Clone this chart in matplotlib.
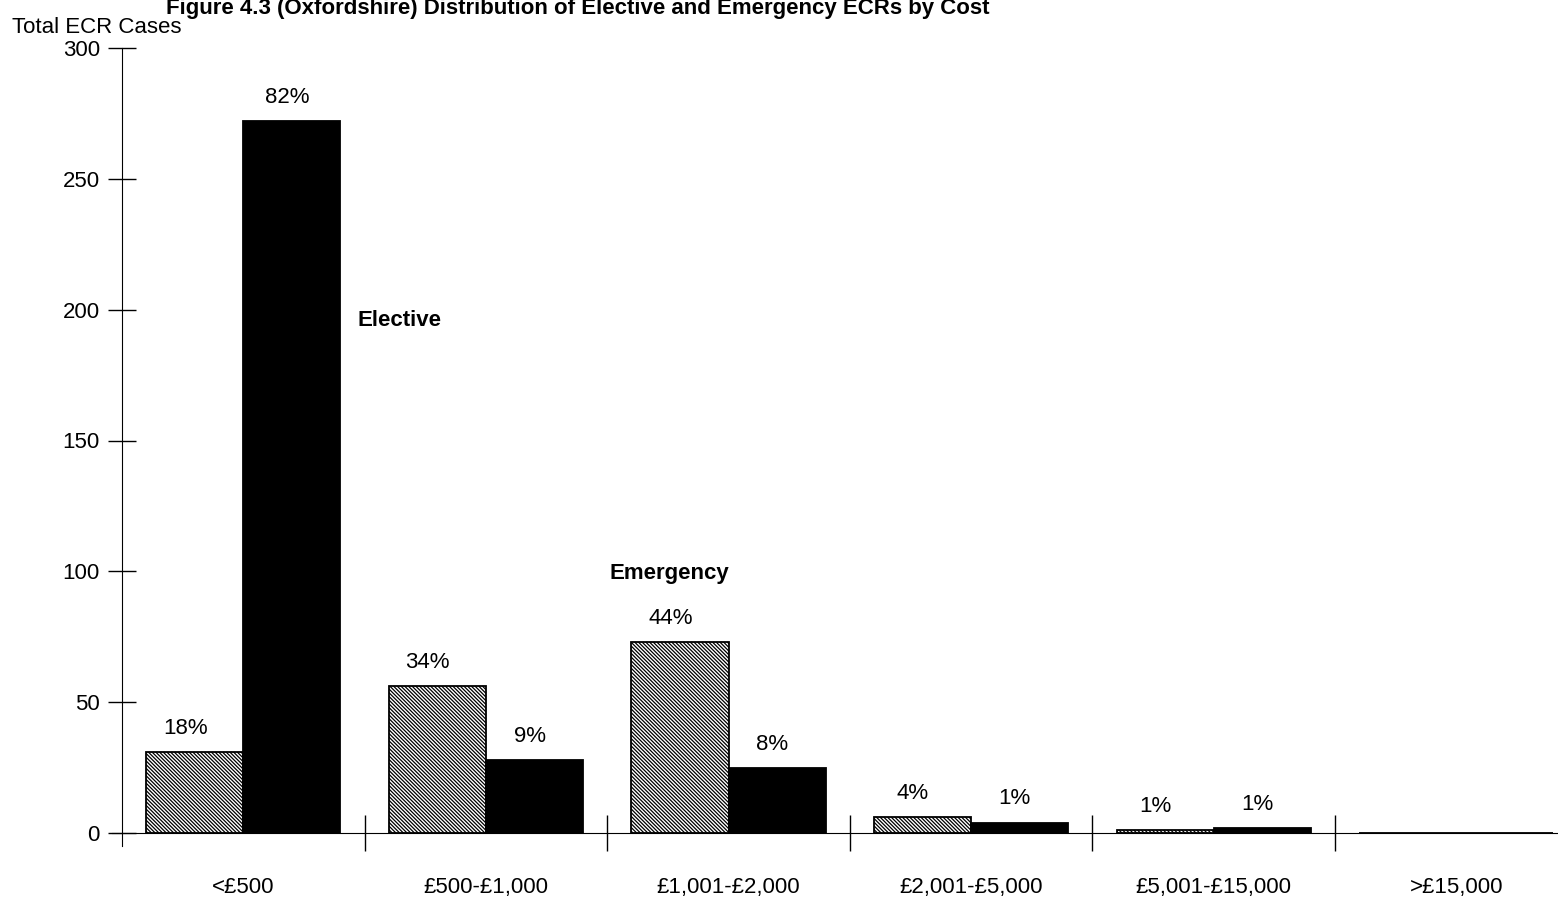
import numpy as np
import matplotlib
matplotlib.use("Agg")
import matplotlib.pyplot as plt

plt.rcParams['font.family'] = ['Liberation Sans', 'DejaVu Sans']
plt.rcParams['hatch.linewidth'] = 0.9

# ECR cases per cost band
bands = ['<£500', '£500-£1,000', '£1,001-£2,000', '£2,001-£5,000',
         '£5,001-£15,000', '>£15,000']
emergency = [31, 56, 73, 6, 1, 0]
elective = [272, 28, 25, 4, 2, 0]
emergency_pct = ['18%', '34%', '44%', '4%', '1%', '']
elective_pct = ['82%', '9%', '8%', '1%', '1%', '']

W, H = 1558, 911
fs = 16
fig = plt.figure(figsize=(W / 100, H / 100), dpi=100)
# axes extend past the right edge so the last band is cut off
left, bottom = 122 / W, 78 / H
ax = fig.add_axes([left, bottom, 6 * 242.6 / W, 785 / H])

x = np.arange(len(bands))
bw = 0.4
ax.bar(x + 0.1, emergency, bw, align='edge', color='white',
       edgecolor='black', hatch='\\' * 9, linewidth=1.3)
ax.bar(x + 0.5, elective, bw, align='edge', color='black',
       edgecolor='black', linewidth=1.3)

for i in range(len(bands)):
    ax.text(x[i] + 0.26, emergency[i] + 5, emergency_pct[i],
            ha='center', va='bottom', fontsize=fs)
    ax.text(x[i] + 0.68, elective[i] + 5, elective_pct[i],
            ha='center', va='bottom', fontsize=fs)

ax.text(0.97, 192, 'Elective', fontsize=fs, fontweight='bold',
        ha='left', va='bottom')
ax.text(2.01, 95, 'Emergency', fontsize=fs, fontweight='bold',
        ha='left', va='bottom')

ax.set_xlim(0, 6)
ax.set_ylim(0, 300)
ax.set_yticks([0, 50, 100, 150, 200, 250, 300])
ax.tick_params(axis='y', direction='inout', length=20, width=1.0,
               labelsize=fs, pad=6)
ax.set_xticks(np.arange(1, 6))
ax.set_xticklabels([])
ax.tick_params(axis='x', direction='inout', length=26, width=1.0)
for i, b in enumerate(bands):
    ax.text(x[i] + 0.5, -21, b, ha='center', va='center', fontsize=fs,
            clip_on=False)

ax.spines['top'].set_visible(False)
ax.spines['right'].set_visible(False)
ax.spines['left'].set_bounds(-5, 300)
ax.spines['bottom'].set_bounds(-0.04, 6)

fig.text(12 / W, 1 - 33 / H, 'Total ECR Cases', fontsize=fs,
         ha='left', va='baseline')
fig.text(166 / W, 1 - 14 / H,
         'Figure 4.3 (Oxfordshire) Distribution of Elective and '
         'Emergency ECRs by Cost',
         fontsize=16, fontweight='bold', ha='left', va='baseline')

fig.savefig('out.png', dpi=100)
